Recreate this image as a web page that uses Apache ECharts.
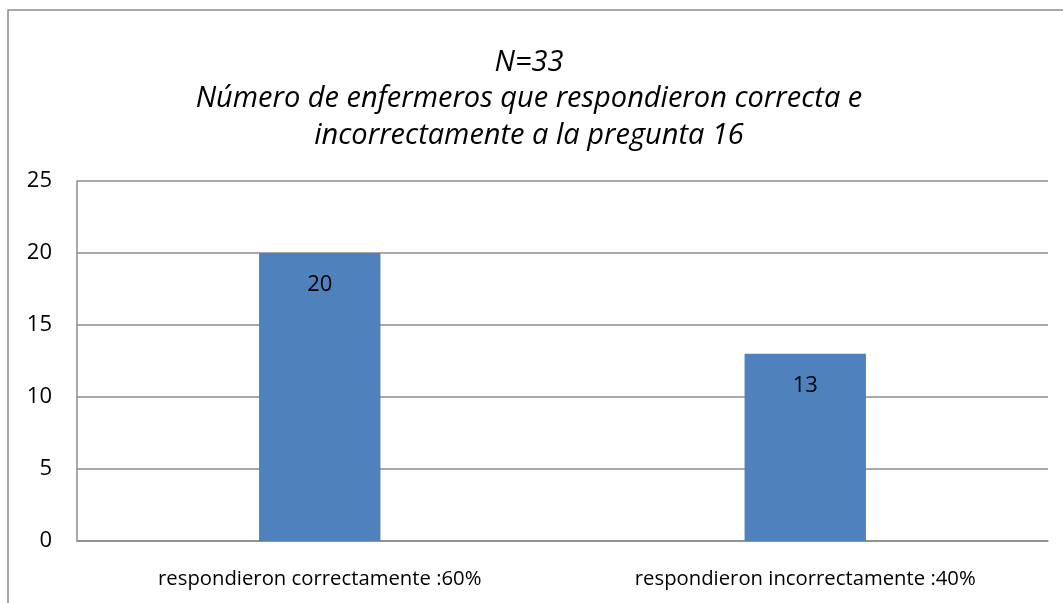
<!DOCTYPE html>
<html>
<head>
<meta charset="utf-8">
<script src="https://cdn.jsdelivr.net/npm/echarts@6/dist/echarts.min.js"></script>
<style>
  html, body { margin: 0; padding: 0; background: #fff; }
  #chart { width: 1063px; height: 603px; }
</style>
</head>
<body>
<div id="chart"></div>
<script>
  // datos
  var categories = ['respondieron correctamente :60%', 'respondieron incorrectamente :40%'];
  var values = [20, 13];
  var titleLines = ['N=33', 'Número de enfermeros que respondieron correcta e', 'incorrectamente a la pregunta 16'];

  var font = 'Open Sans';
  var chart = echarts.init(document.getElementById('chart'));

  var option = {
    animation: false,
    textStyle: { fontFamily: font },
    title: {
      text: titleLines.join('\n'),
      left: 524,
      top: 39,
      textAlign: 'center',
      textStyle: {
        fontFamily: font,
        fontSize: 29,
        fontStyle: 'italic',
        fontWeight: 'normal',
        color: '#000',
        lineHeight: 36.5
      }
    },
    // marco exterior (solo izquierda y arriba se ven)
    graphic: [{
      type: 'polyline',
      shape: { points: [[8, 603], [8, 10], [1063, 10]] },
      style: { stroke: '#8c8c8c', lineWidth: 1.5, fill: null }
    }],
    grid: { left: 77, right: 15, top: 181, bottom: 62 },
    xAxis: {
      type: 'category',
      data: categories,
      axisLine: { lineStyle: { color: '#8c8c8c', width: 1.5 } },
      axisTick: { show: false },
      axisLabel: { color: '#000', fontSize: 20.3, margin: 28, fontFamily: font }
    },
    yAxis: {
      type: 'value',
      min: 0,
      max: 25,
      interval: 5,
      axisLine: { show: true, lineStyle: { color: '#8c8c8c', width: 1.5 } },
      axisTick: { show: false },
      splitLine: { lineStyle: { color: '#8c8c8c', width: 1.5 } },
      axisLabel: { color: '#000', fontSize: 22, margin: 25, fontFamily: font }
    },
    series: [{
      type: 'bar',
      data: values,
      barWidth: '25%',
      itemStyle: { color: '#4f81bd' },
      label: {
        show: true,
        position: 'insideTop',
        distance: 21,
        color: '#000',
        fontSize: 22,
        fontFamily: font
      }
    }]
  };

  chart.setOption(option);
</script>
</body>
</html>
